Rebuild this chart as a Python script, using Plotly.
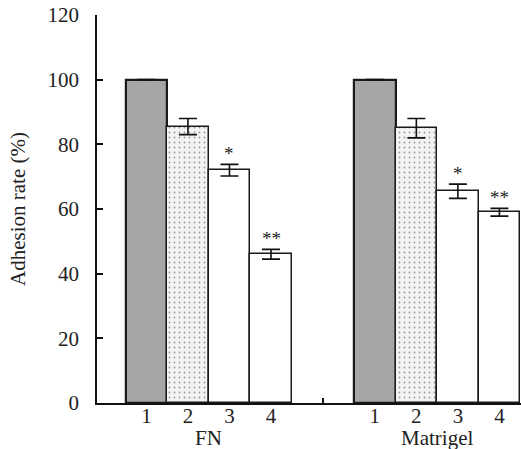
import plotly.graph_objects as go

groups = ["FN", "Matrigel"]
bar_labels = ["1", "2", "3", "4"]
fn_values = [100, 85.5, 72, 46]
fn_errors = [0, 2.5, 1.8, 1.5]
matrigel_values = [100, 85, 65.5, 59]
matrigel_errors = [0, 3, 2.2, 1.2]
fn_marks = ["", "", "*", "**"]
matrigel_marks = ["", "", "*", "**"]
y_ticks = [0, 20, 40, 60, 80, 100, 120]

values = [fn_values, matrigel_values]
errors = [fn_errors, matrigel_errors]
marks = [fn_marks, matrigel_marks]

n = len(bar_labels)
gap = 1.5
fills = ["#a6a6a6", "#f3f3f3", "#ffffff", "#ffffff"]
patterns = ["", ".", "", ""]
line_w = [2.2, 1.5, 1.5, 1.5]

xs, ys, es, cols, pats, lws, tl = [], [], [], [], [], [], []
centers = []
for g in range(len(groups)):
    base = 1 + g * (n + gap)
    centers.append(base + (n - 1) / 2)
    for i in range(n):
        xs.append(base + i)
        ys.append(values[g][i])
        es.append(errors[g][i])
        cols.append(fills[i])
        pats.append(patterns[i])
        lws.append(line_w[i])
        tl.append(bar_labels[i])

fig = go.Figure()
fig.add_trace(go.Bar(
    x=xs, y=ys, width=1,
    marker=dict(color=cols, line=dict(color="#1a1a1a", width=lws),
                pattern=dict(shape=pats, fgcolor="#d6d6d6", size=5, solidity=0.1)),
    error_y=dict(type="data", array=[e if e > 0 else None for e in es], visible=True,
                 color="#111111", thickness=1.6, width=9),
    showlegend=False,
))

annotations = []
for x, y, e, m in zip(xs, ys, es, [mm for grp in marks for mm in grp]):
    if m:
        annotations.append(dict(x=x, y=y + e, text=m, showarrow=False, yanchor="bottom",
                                yshift=-2, font=dict(family="Liberation Serif", size=19, color="#222")))
for c, gname in zip(centers, groups):
    annotations.append(dict(x=c, y=0, yref="y", text=gname, showarrow=False, yanchor="top",
                            yshift=-21, font=dict(family="Liberation Serif", size=21, color="#222")))

mid = (xs[n - 1] + xs[n]) / 2
left = xs[0] - 1.19
right = xs[0] + 9.02

fig.update_layout(
    width=521, height=449,
    margin=dict(l=97, r=0, t=15, b=46),
    paper_bgcolor="white", plot_bgcolor="white",
    bargap=0,
    font=dict(family="Liberation Serif", size=21, color="#222"),
    annotations=annotations,
    xaxis=dict(range=[left, right], tickmode="array", tickvals=xs, ticktext=tl,
               ticks="", showgrid=False, zeroline=False, showline=True, automargin=False,
               linecolor="#111", linewidth=1.6, tickfont=dict(size=21), ticklabelstandoff=-7,
               minor=dict(tickmode="array", tickvals=[mid], ticks="inside", ticklen=5,
                          tickwidth=1.6, tickcolor="#111", showgrid=False)),
    yaxis=dict(range=[0, 120], tickvals=y_ticks, ticks="inside", ticklen=6, tickwidth=1.6,
               tickcolor="#111", showgrid=False, zeroline=False, showline=True, automargin=False,
               linecolor="#111", linewidth=1.6, tickfont=dict(size=21), ticklabelstandoff=12,
               title=dict(text="Adhesion rate (%)", font=dict(size=21), standoff=16)),
)

fig.write_html("out.html", config={"displayModeBar": False},
               post_script="document.body.style.margin='0';document.body.style.overflow='hidden';")
